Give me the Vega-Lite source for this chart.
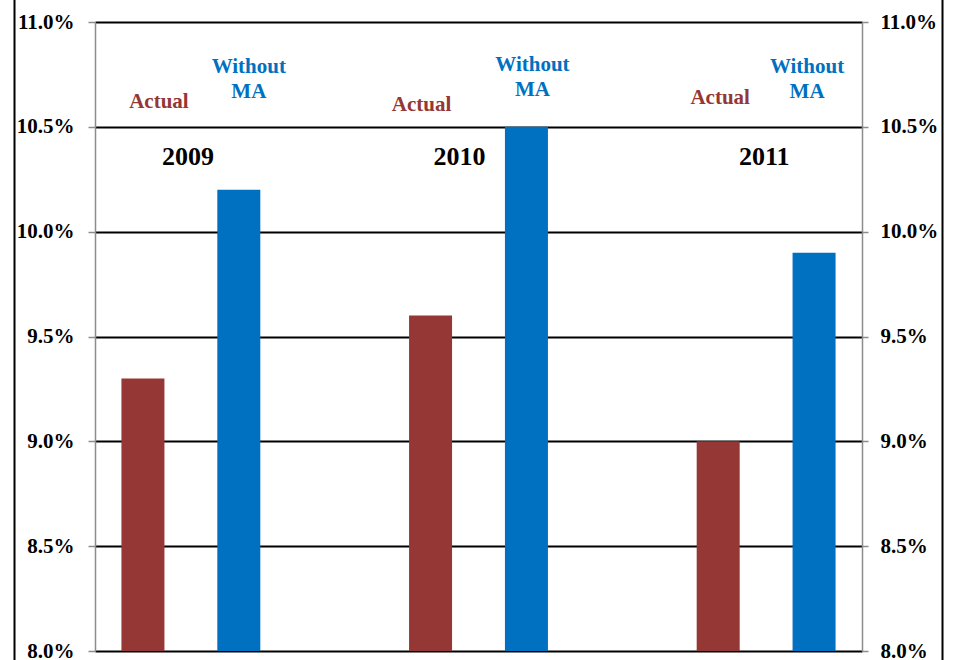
{
  "$schema": "https://vega.github.io/schema/vega-lite/v6.json",
  "width": 767,
  "height": 629,
  "autosize": {"type": "none"},
  "padding": {"left": 95, "top": 22, "right": 96, "bottom": 20},
  "background": "white",
  "config": {
    "view": {"stroke": null},
    "font": "Liberation Serif",
    "text": {"font": "Liberation Serif", "fontWeight": "bold", "align": "center", "baseline": "middle"}
  },
  "datasets": {
    "bars": [
      {"year": "2009", "series": "Actual", "slot": "2009 Actual", "value": 9.3},
      {"year": "2009", "series": "Without MA", "slot": "2009 Without MA", "value": 10.2},
      {"year": "2010", "series": "Actual", "slot": "2010 Actual", "value": 9.6},
      {"year": "2010", "series": "Without MA", "slot": "2010 Without MA", "value": 10.5},
      {"year": "2011", "series": "Actual", "slot": "2011 Actual", "value": 9.0},
      {"year": "2011", "series": "Without MA", "slot": "2011 Without MA", "value": 9.9}
    ]
  },
  "encoding": {
    "x": {
      "field": "slot",
      "type": "nominal",
      "scale": {
        "domain": ["2009 Actual", "2009 Without MA", "gap1", "2010 Actual", "2010 Without MA", "gap2", "2011 Actual", "2011 Without MA"],
        "paddingInner": 0.5515,
        "paddingOuter": 0.2757
      },
      "axis": null
    }
  },
  "layer": [
    {
      "layer": [
        {
          "data": {"name": "bars"},
          "mark": {"type": "bar"},
          "encoding": {
            "y": {
              "field": "value",
              "type": "quantitative",
              "scale": {"domain": [8, 11], "nice": false, "zero": false},
              "axis": {
                "orient": "left",
                "title": null,
                "values": [8, 8.5, 9, 9.5, 10, 10.5, 11],
                "labelExpr": "format(datum.value, '.1f') + '%'",
                "labelFont": "Liberation Serif",
                "labelFontSize": 21,
                "labelFontWeight": "bold",
                "labelColor": "black",
                "labelPadding": 14,
                "tickSize": 7,
                "tickColor": "#8c8c8c",
                "tickWidth": 1.5,
                "domainColor": "#8c8c8c",
                "domainWidth": 1.5,
                "grid": true,
                "gridColor": "black",
                "gridWidth": 1.8,
                "gridOpacity": 1
              }
            },
            "y2": {"datum": 8},
            "color": {
              "field": "series",
              "type": "nominal",
              "scale": {"domain": ["Actual", "Without MA"], "range": ["#953735", "#0070C0"]},
              "legend": null
            }
          }
        },
        {
          "data": {"name": "bars"},
          "mark": {"type": "point", "opacity": 0},
          "encoding": {
            "y": {
              "field": "value",
              "type": "quantitative",
              "axis": {
                "orient": "right",
                "title": null,
                "values": [8, 8.5, 9, 9.5, 10, 10.5, 11],
                "labelExpr": "format(datum.value, '.1f') + '%'",
                "labelFont": "Liberation Serif",
                "labelFontSize": 21,
                "labelFontWeight": "bold",
                "labelColor": "black",
                "labelPadding": 12,
                "tickSize": 6,
                "tickColor": "#8c8c8c",
                "tickWidth": 1.5,
                "domainColor": "#8c8c8c",
                "domainWidth": 1.5,
                "grid": false
              }
            }
          }
        },
        {
          "data": {"values": [{"slot": "2009 Actual", "label": "Actual"}]},
          "mark": {"type": "text", "dx": 16, "fontSize": 21, "color": "#953735"},
          "encoding": {"y": {"datum": 10.62, "axis": null}, "text": {"field": "label"}}
        },
        {
          "data": {"values": [{"slot": "2010 Actual", "label": "Actual"}]},
          "mark": {"type": "text", "dx": -9, "fontSize": 21, "color": "#953735"},
          "encoding": {"y": {"datum": 10.605, "axis": null}, "text": {"field": "label"}}
        },
        {
          "data": {"values": [{"slot": "2011 Actual", "label": "Actual"}]},
          "mark": {"type": "text", "dx": 2, "fontSize": 21, "color": "#953735"},
          "encoding": {"y": {"datum": 10.637, "axis": null}, "text": {"field": "label"}}
        },
        {
          "data": {"values": [{"slot": "2009 Without MA", "label": "Without\nMA"}]},
          "mark": {"type": "text", "dx": 10, "fontSize": 21, "color": "#0070C0", "lineBreak": "\n", "lineHeight": 25},
          "encoding": {"y": {"datum": 10.783, "axis": null}, "text": {"field": "label"}}
        },
        {
          "data": {"values": [{"slot": "2010 Without MA", "label": "Without\nMA"}]},
          "mark": {"type": "text", "dx": 6, "fontSize": 21, "color": "#0070C0", "lineBreak": "\n", "lineHeight": 25},
          "encoding": {"y": {"datum": 10.795, "axis": null}, "text": {"field": "label"}}
        },
        {
          "data": {"values": [{"slot": "2011 Without MA", "label": "Without\nMA"}]},
          "mark": {"type": "text", "dx": -7, "fontSize": 21, "color": "#0070C0", "lineBreak": "\n", "lineHeight": 25},
          "encoding": {"y": {"datum": 10.785, "axis": null}, "text": {"field": "label"}}
        },
        {
          "data": {"values": [{"slot": "2009 Actual", "label": "2009"}]},
          "mark": {"type": "text", "dx": 45, "fontSize": 26, "color": "black"},
          "encoding": {"y": {"datum": 10.355, "axis": null}, "text": {"field": "label"}}
        },
        {
          "data": {"values": [{"slot": "2010 Actual", "label": "2010"}]},
          "mark": {"type": "text", "dx": 29, "fontSize": 26, "color": "black"},
          "encoding": {"y": {"datum": 10.355, "axis": null}, "text": {"field": "label"}}
        },
        {
          "data": {"values": [{"slot": "2011 Actual", "label": "2011"}]},
          "mark": {"type": "text", "dx": 46, "fontSize": 26, "color": "black"},
          "encoding": {"y": {"datum": 10.355, "axis": null}, "text": {"field": "label"}}
        }
      ],
      "resolve": {"axis": {"y": "independent"}, "scale": {"y": "shared"}}
    },
    {
      "data": {"name": "bars"},
      "mark": {"type": "point", "opacity": 0},
      "encoding": {
        "y": {
          "field": "value",
          "type": "quantitative",
          "scale": {"domain": [8, 11], "nice": false, "zero": false, "range": [690, -40]},
          "axis": {
            "orient": "left",
            "offset": 81,
            "title": null,
            "labels": false,
            "ticks": false,
            "grid": false,
            "domainColor": "black",
            "domainWidth": 2
          }
        }
      }
    },
    {
      "data": {"name": "bars"},
      "mark": {"type": "point", "opacity": 0},
      "encoding": {
        "y": {
          "field": "value",
          "type": "quantitative",
          "scale": {"domain": [8, 11], "nice": false, "zero": false, "range": [690, -40]},
          "axis": {
            "orient": "right",
            "offset": 80,
            "title": null,
            "labels": false,
            "ticks": false,
            "grid": false,
            "domainColor": "black",
            "domainWidth": 2
          }
        }
      }
    }
  ],
  "resolve": {"axis": {"y": "independent"}, "scale": {"y": "independent"}}
}
